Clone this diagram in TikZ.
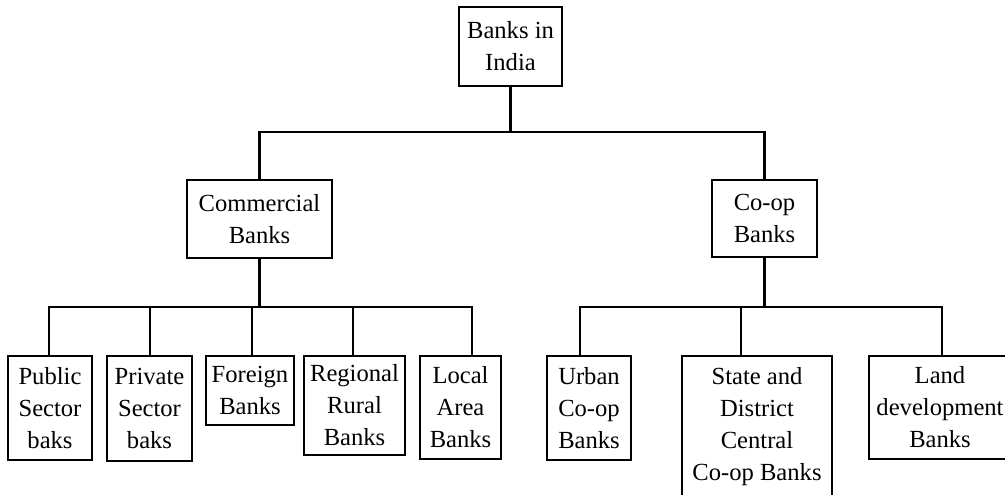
\documentclass[tikz,border=0pt]{standalone}
\usepackage{fontspec}
\setmainfont{Liberation Serif}
\begin{document}
\begin{tikzpicture}[
	x=0.5pt,
	y=-0.5pt,
	bank/.style={
		rectangle,
		draw,
		line width=1.2pt,
		align=center,
		inner sep=0pt,
		font=\fontsize{12.3}{16}\selectfont,
	},
	LinkC1/.style={% Square tree connectors
		line width=1.2pt,
		line cap=rect,
	},
]
	\useasboundingbox (0,0) rectangle (1005,494);
	\clip (0,0) rectangle (1005,494);

	% first and second level
	\node [bank, minimum width=51.5pt, minimum height=39.5pt] (root) at (510.5,46.5) {Banks in\\India};
	\coordinate (topbus) at (510.5,132);
	\node [bank, minimum width=72.5pt, minimum height=39pt] (comm) at (259.5,219) {Commercial\\Banks};
	\node [bank, minimum width=52.5pt, minimum height=38.5pt] (coop) at (764.5,218.5) {Co-op\\Banks};

	% commercial banks
	\coordinate (combus) at (259.5,307);
	\coordinate (pubdrop) at (49,307);
	\coordinate (pridrop) at (150,307);
	\coordinate (fordrop) at (252,307);
	\coordinate (regdrop) at (353,307);
	\coordinate (locdrop) at (472,307);
	\node [bank, minimum width=42pt, minimum height=52pt] (public) at (50,408) {Public\\Sector\\baks};
	\node [bank, minimum width=42.5pt, minimum height=52.5pt] (private) at (149.5,408.5) {Private\\Sector\\baks};
	\node [bank, minimum width=44pt, minimum height=34.5pt] (foreign) at (250,390.5) {Foreign\\Banks};
	\node [bank, minimum width=50.5pt, minimum height=49.5pt] (regional) at (354.5,405.5) {Regional\\Rural\\Banks};
	\node [bank, minimum width=40.5pt, minimum height=51.5pt] (local) at (460.5,407.5) {Local\\Area\\Banks};

	% co-op banks
	\coordinate (coopbus) at (764.5,307);
	\coordinate (urbdrop) at (580,307);
	\coordinate (stadrop) at (741,307);
	\coordinate (landrop) at (942,307);
	\node [bank, minimum width=42pt, minimum height=52pt] (urban) at (589,408) {Urban\\Co-op\\Banks};
	\node [bank, minimum width=75pt, minimum height=71pt] (state) at (757,427) {State and\\District\\Central\\Co-op Banks};
	\node [bank, minimum width=71pt, minimum height=51.5pt] (land) at (940,407.5) {Land\\development\\Banks};

	\draw [LinkC1] (root) -- (topbus);
	\draw [LinkC1] (comm.north) |- (topbus) -| (coop.north);

	\draw [LinkC1] (comm) -- (combus);
	\draw [LinkC1] (pubdrop) -- (locdrop);
	\foreach \d/\b in {pubdrop/public, pridrop/private, fordrop/foreign, regdrop/regional, locdrop/local}
		\draw [LinkC1] (\d) -- (\d |- \b.north);

	\draw [LinkC1] (coop) -- (coopbus);
	\draw [LinkC1] (urbdrop) -- (landrop);
	\foreach \d/\b in {urbdrop/urban, stadrop/state, landrop/land}
		\draw [LinkC1] (\d) -- (\d |- \b.north);
\end{tikzpicture}
\end{document}
